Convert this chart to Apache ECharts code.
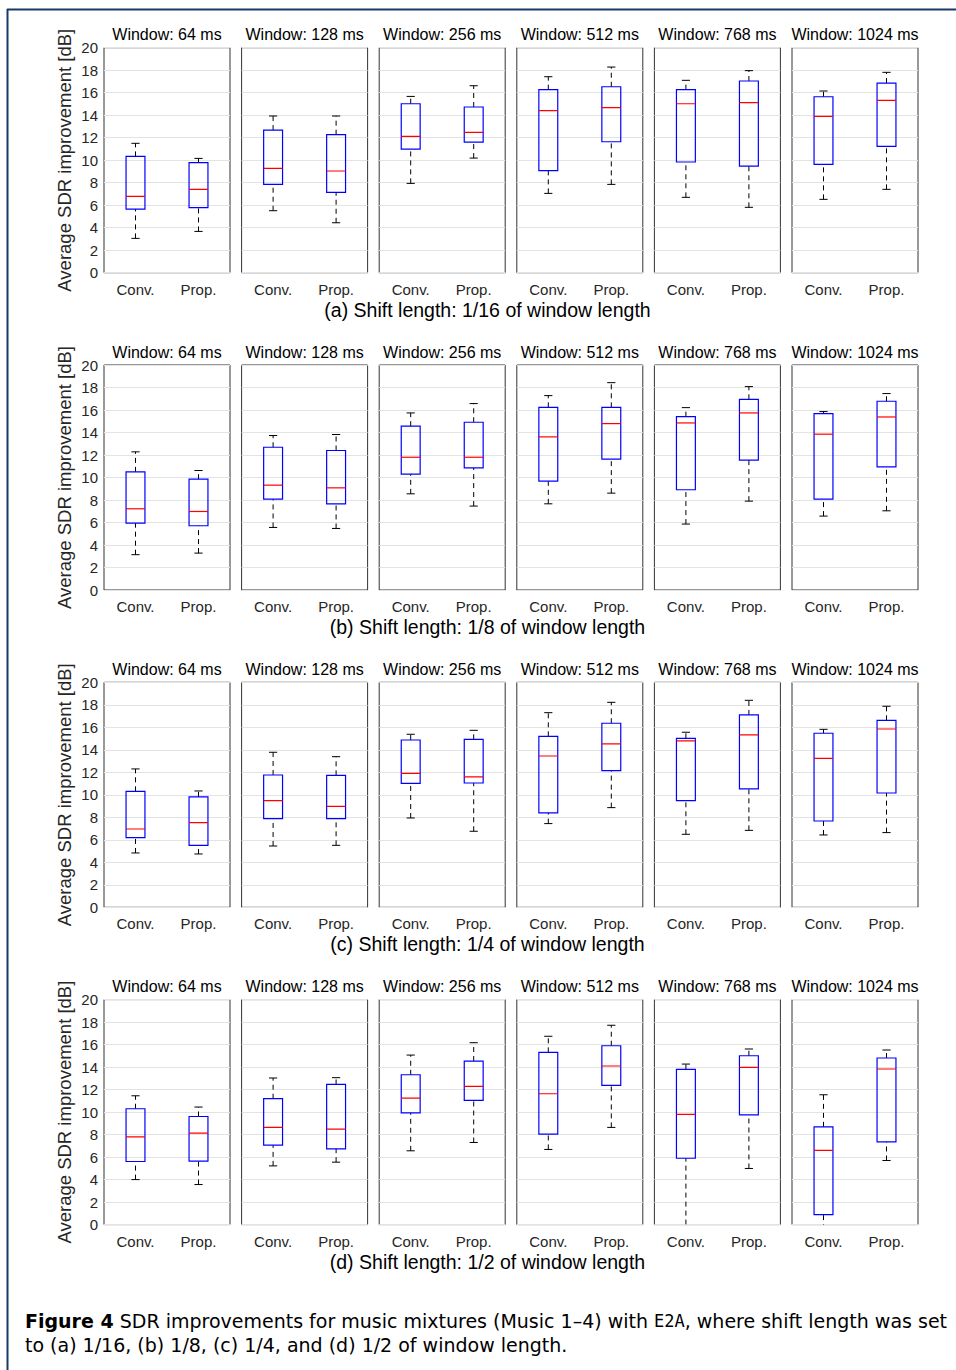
<!DOCTYPE html>
<html>
<head>
<meta charset="utf-8">
<script src="https://cdn.jsdelivr.net/npm/echarts@6/dist/echarts.min.js"></script>
<style>
  html, body { margin: 0; padding: 0; background: #fff; }
  #chart { width: 956px; height: 1370px; }
</style>
</head>
<body>
<div id="chart"></div>
<script>
// categories
const windows = ['64', '128', '256', '512', '768', '1024'];
const methods = ['Conv.', 'Prop.'];
const shiftNames = ['(a) Shift length: 1/16 of window length',
                    '(b) Shift length: 1/8 of window length',
                    '(c) Shift length: 1/4 of window length',
                    '(d) Shift length: 1/2 of window length'];
const yTicks = [0, 20, 2]; // min, max, step

// [lower whisker, q1, median, q3, upper whisker], Conv then Prop for each window
const shift16 = [
  [3.05, 5.66, 6.79, 10.34, 11.5], [3.67, 5.78, 7.41, 9.78, 10.16],
  [5.51, 7.85, 9.27, 12.68, 13.93], [4.44, 7.14, 9.04, 12.27, 13.93],
  [7.94, 10.99, 12.12, 15.02, 15.67], [10.19, 11.61, 12.47, 14.73, 16.62],
  [7.05, 9.07, 14.4, 16.27, 17.42], [7.85, 11.64, 14.67, 16.53, 18.28],
  [6.7, 9.84, 15.02, 16.27, 17.1], [5.81, 9.48, 15.11, 17.04, 17.96],
  [6.52, 9.63, 13.9, 15.64, 16.15], [7.41, 11.23, 15.32, 16.86, 17.81]
];
const shift8 = [
  [3.14, 5.95, 7.22, 10.5, 12.28], [3.28, 5.71, 6.98, 9.85, 10.62],
  [5.56, 8.08, 9.32, 12.69, 13.73], [5.47, 7.66, 9.08, 12.4, 13.82],
  [8.55, 10.3, 11.8, 14.56, 15.74], [7.46, 10.86, 11.8, 14.91, 16.57],
  [7.66, 9.67, 13.61, 16.24, 17.28], [8.61, 11.63, 14.79, 16.24, 18.43],
  [5.86, 8.91, 14.85, 15.41, 16.21], [7.9, 11.54, 15.74, 16.95, 18.08],
  [6.57, 8.08, 13.85, 15.68, 15.86], [7.04, 10.95, 15.38, 16.78, 17.46]
];
const shift4 = [
  [4.83, 6.19, 6.96, 10.31, 12.3], [4.74, 5.51, 7.53, 9.81, 10.34],
  [5.45, 7.88, 9.48, 11.76, 13.78], [5.51, 7.88, 8.98, 11.73, 13.39],
  [7.94, 11.02, 11.91, 14.87, 15.38], [6.76, 11.05, 11.59, 14.93, 15.73],
  [7.44, 8.39, 13.45, 15.2, 17.3], [8.86, 12.15, 14.52, 16.36, 18.22],
  [6.49, 9.48, 14.79, 15.02, 15.56], [6.84, 10.52, 15.32, 17.1, 18.4],
  [6.43, 7.67, 13.24, 15.47, 15.82], [6.64, 10.16, 15.85, 16.62, 17.87]
];
const shift2 = [
  [4.0, 5.61, 7.8, 10.3, 11.45], [3.56, 5.64, 8.13, 9.61, 10.45],
  [5.22, 7.06, 8.64, 11.19, 13.03], [5.55, 6.74, 8.49, 12.46, 13.06],
  [6.56, 9.94, 11.25, 13.32, 15.07], [7.3, 11.04, 12.28, 14.54, 16.17],
  [6.68, 8.04, 11.63, 15.31, 16.74], [8.64, 12.37, 14.1, 15.9, 17.72],
  [-0.8, 5.9, 9.79, 13.8, 14.27], [4.99, 9.76, 13.98, 15.01, 15.61],
  [-2.0, 0.89, 6.59, 8.69, 11.54], [5.7, 7.36, 13.83, 14.81, 15.52]
];
const rows = [shift16, shift8, shift4, shift2];

const FONT = 'Liberation Sans, Arial, Helvetica, sans-serif';
const CAPFONT = 'DejaVu Sans, sans-serif';
const gridW = 126, gridH = 225;
const colLeft = j => 104 + 137.6 * j;
const rowTop = i => 47.7 + 317.3 * i;

function renderBox(params, api) {
  const x = api.value(0);
  const lo = api.coord([x, api.value(1)]);
  const q1 = api.coord([x, api.value(2)]);
  const md = api.coord([x, api.value(3)]);
  const q3 = api.coord([x, api.value(4)]);
  const hi = api.coord([x, api.value(5)]);
  const band = api.size([1, 0])[0];
  const bw = band * 0.3, cw = band * 0.13;
  const cx = lo[0];
  const dash = { stroke: '#000', lineWidth: 1, lineDash: [5, 4], fill: null };
  const solid = c => ({ stroke: c, lineWidth: 1, fill: null });
  return {
    type: 'group',
    children: [
      { type: 'line', shape: { x1: cx, y1: lo[1], x2: cx, y2: q1[1] }, style: dash },
      { type: 'line', shape: { x1: cx, y1: q3[1], x2: cx, y2: hi[1] }, style: dash },
      { type: 'line', shape: { x1: cx - cw / 2, y1: lo[1], x2: cx + cw / 2, y2: lo[1] }, style: solid('#000') },
      { type: 'line', shape: { x1: cx - cw / 2, y1: hi[1], x2: cx + cw / 2, y2: hi[1] }, style: solid('#000') },
      { type: 'rect', shape: { x: cx - bw / 2, y: q3[1], width: bw, height: q1[1] - q3[1] },
        style: { stroke: '#0000ff', lineWidth: 1.2, fill: null } },
      { type: 'line', shape: { x1: cx - bw / 2, y1: md[1], x2: cx + bw / 2, y2: md[1] }, style: { stroke: '#ff0000', lineWidth: 1.2 } }
    ]
  };
}

const grid = [], xAxis = [], yAxis = [], series = [], graphic = [];
const tickStyle = { inside: true, length: 3, lineStyle: { color: '#333', width: 1 } };

rows.forEach((row, i) => {
  windows.forEach((w, j) => {
    const g = i * 6 + j;
    grid.push({
      left: colLeft(j), top: rowTop(i), width: gridW, height: gridH,
      show: true, borderColor: '#333', borderWidth: 1
    });
    xAxis.push({
      gridIndex: g, type: 'category', data: methods, position: 'bottom',
      axisLine: { show: false },
      axisTick: Object.assign({ alignWithLabel: true }, tickStyle),
      axisLabel: { fontSize: 15, color: '#262626', margin: 9, fontFamily: FONT }
    });
    xAxis.push({
      gridIndex: g, type: 'category', data: methods, position: 'top',
      axisLine: { show: false },
      axisTick: Object.assign({ alignWithLabel: true }, tickStyle),
      axisLabel: { show: false }
    });
    yAxis.push({
      gridIndex: g, type: 'value', min: yTicks[0], max: yTicks[1], interval: yTicks[2],
      position: 'left',
      axisLine: { show: false },
      axisTick: tickStyle,
      axisLabel: { show: j === 0, fontSize: 15, color: '#262626', margin: 6, fontFamily: FONT },
      splitLine: { show: true, lineStyle: { color: '#e3e3e3', width: 1 } },
      name: j === 0 ? 'Average SDR improvement [dB]' : '',
      nameLocation: 'middle', nameGap: 30, nameRotate: 90,
      nameTextStyle: { fontSize: 18.5, color: '#262626', fontFamily: FONT }
    });
    yAxis.push({
      gridIndex: g, type: 'value', min: yTicks[0], max: yTicks[1], interval: yTicks[2],
      position: 'right',
      axisLine: { show: false },
      axisTick: tickStyle,
      axisLabel: { show: false },
      splitLine: { show: false }
    });
    series.push({
      type: 'custom', xAxisIndex: 2 * g, yAxisIndex: 2 * g, clip: true,
      renderItem: renderBox,
      data: methods.map((m, k) => [k].concat(row[2 * j + k]))
    });
    graphic.push({
      type: 'text', x: colLeft(j) + gridW / 2, y: rowTop(i) - 13,
      style: { text: 'Window: ' + w + ' ms', fontSize: 16, fontFamily: FONT, fill: '#000',
               textAlign: 'center', textVerticalAlign: 'middle' }
    });
  });
  graphic.push({
    type: 'text', x: 487.5, y: rowTop(i) + 262,
    style: { text: shiftNames[i], fontSize: 19.5, fontFamily: FONT, fill: '#000',
             textAlign: 'center', textVerticalAlign: 'middle' }
  });
});

// page frame
graphic.push({ type: 'line', shape: { x1: 7, y1: 9.5, x2: 956, y2: 9.5 }, style: { stroke: '#17386b', lineWidth: 2 } });
graphic.push({ type: 'line', shape: { x1: 7.5, y1: 9, x2: 7.5, y2: 1370 }, style: { stroke: '#17386b', lineWidth: 2 } });

// caption
graphic.push({
  type: 'text', x: 25, y: 1321,
  style: {
    text: '{b|Figure 4} SDR improvements for music mixtures (Music 1\u20134) with {m|E2A}, where shift length was set',
    fontSize: 19, fontFamily: CAPFONT, fill: '#000', textVerticalAlign: 'middle',
    rich: {
      b: { fontWeight: 'bold', fontSize: 19, fontFamily: CAPFONT },
      m: { fontFamily: 'DejaVu Sans Mono, Liberation Mono, monospace', fontSize: 17 }
    }
  }
});
graphic.push({
  type: 'text', x: 25, y: 1345,
  style: { text: 'to (a) 1/16, (b) 1/8, (c) 1/4, and (d) 1/2 of window length.',
           fontSize: 19, fontFamily: CAPFONT, fill: '#000', textVerticalAlign: 'middle' }
});

const chart = echarts.init(document.getElementById('chart'), null, { renderer: 'svg' });
chart.setOption({
  animation: false,
  backgroundColor: '#fff',
  grid, xAxis, yAxis, series, graphic
});
</script>
</body>
</html>
